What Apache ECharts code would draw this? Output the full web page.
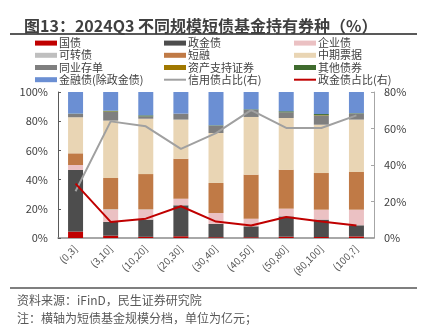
<!DOCTYPE html>
<html><head><meta charset="utf-8">
<script src="https://cdn.jsdelivr.net/npm/echarts@6/dist/echarts.min.js"></script>
<style>html,body{margin:0;padding:0;background:#fff}#c{width:435px;height:330px}</style>
</head><body><div id="c"></div>
<script>
const categories = ['(0,3]','(3,10]','(10,20]','(20,30]','(30,40]','(40,50]','(50,80]','(80,100]','(100,?]'];
const guozhai   = [4.4, 1.6, 0.8, 1.2, 0.5, 0.5, 0.9, 0.7, 1.1];
const zhengjin  = [42.2, 9.4, 11.8, 21.2, 9.1, 7.5, 13.9, 11.9, 7.6];
const qiye      = [3.4, 8.4, 6.8, 4.5, 7.5, 5.2, 5.3, 6.8, 10.7];
const kezhuan   = [0, 0.3, 0.2, 0, 0, 0, 0, 0, 0];
const duanrong  = [8.0, 21.4, 24.2, 27.4, 20.6, 30.2, 26.7, 25.1, 25.8];
const zhongqi   = [24.7, 39.3, 37.9, 26.8, 34.2, 39.5, 35.4, 33.1, 35.9];
const tongye    = [2.3, 6.0, 1.6, 4.1, 5.0, 4.8, 3.9, 6.2, 4.1];
const abs       = [0, 0.3, 0, 0, 0, 0, 0, 0.3, 0];
const qita      = [0.2, 0.5, 0.7, 0, 0.3, 0.4, 0.7, 0.8, 0.3];
const jinrong   = [14.8, 12.8, 16.0, 14.8, 22.8, 11.9, 13.2, 15.1, 14.5];
const xinyongRatio  = [25.6, 63.9, 61.2, 48.8, 57.5, 70.1, 60.3, 60.3, 67.2];
const zhengjinRatio = [29.8, 8.8, 10.6, 17.4, 9.0, 6.8, 11.5, 9.1, 6.9];
const leftTicks = [0, 20, 40, 60, 80, 100];
const rightTicks = [0, 20, 40, 60, 80];

const barDefs = [
  ['国债', guozhai, '#C00000'],
  ['政金债', zhengjin, '#4D4D4D'],
  ['企业债', qiye, '#EBC1C3'],
  ['可转债', kezhuan, '#BFBFBF'],
  ['短融', duanrong, '#C07A46'],
  ['中期票据', zhongqi, '#E9D5B4'],
  ['同业存单', tongye, '#7F7F7F'],
  ['资产支持证券', abs, '#A07800'],
  ['其他债券', qita, '#3F6B2E'],
  ['金融债(除政金债)', jinrong, '#6B8FD3']
];
const series = barDefs.map(d => ({
  name: d[0], type: 'bar', stack: 'a', data: d[1], barWidth: 15,
  itemStyle: { color: d[2] }, emphasis: { disabled: true }
}));
series.push({ name: '信用债占比(右)', type: 'line', yAxisIndex: 1, data: xinyongRatio, symbol: 'none',
  lineStyle: { color: '#A0A0A0', width: 2 }, itemStyle: { color: '#A0A0A0' }, z: 5 });
series.push({ name: '政金债占比(右)', type: 'line', yAxisIndex: 1, data: zhengjinRatio, symbol: 'none',
  lineStyle: { color: '#C00000', width: 2 }, itemStyle: { color: '#C00000' }, z: 6 });

const font = '"Noto Sans CJK SC", "Noto Sans", sans-serif';
const lineIcon = 'path://M0,0H22V2H0Z';
function legendCol(left, names) {
  return { orient: 'vertical', left: left, top: 37, itemWidth: 22, itemHeight: 5, itemGap: 0,
    padding: 0, data: names.map(n => ({ name: n, icon: n.indexOf('占比') >= 0 ? lineIcon : 'rect' })),
    textStyle: { fontSize: 11, lineHeight: 12.2, color: '#404040', fontFamily: font, padding: [0,0,0,-3] },
    selectedMode: false };
}
const chart = echarts.init(document.getElementById('c'), null, { renderer: 'canvas' });
chart.setOption({
  animation: false,
  textStyle: { fontFamily: font },
  title: { text: '图13：2024Q3 不同规模短债基金持有券种（%）', left: 19, top: 13,
    textStyle: { fontSize: 16, fontWeight: 'bold', color: '#404040', fontFamily: font } },
  legend: [
    legendCol(35, ['国债', '可转债', '同业存单', '金融债(除政金债)']),
    legendCol(164, ['政金债', '短融', '资产支持证券', '信用债占比(右)']),
    legendCol(294, ['企业债', '中期票据', '其他债券', '政金债占比(右)'])
  ],
  grid: { left: 58, right: 61, top: 92, bottom: 92 },
  xAxis: { type: 'category', data: categories,
    axisLine: { lineStyle: { color: '#8C8C8C', width: 1.5 } }, axisTick: { show: false },
    axisLabel: { rotate: 45, interval: 0, fontSize: 10, color: '#595959', margin: 9 } },
  yAxis: [
    { type: 'value', min: 0, max: 100, interval: 20,
      axisLine: { show: true, lineStyle: { color: '#595959' } },
      axisTick: { show: true, inside: true, length: 3, lineStyle: { color: '#595959' } },
      splitLine: { show: false },
      axisLabel: { formatter: v => leftTicks.includes(v) ? v + '%' : '', fontSize: 11, color: '#404040', margin: 10 } },
    { type: 'value', min: 0, max: 80, interval: 20,
      axisLine: { show: true, lineStyle: { color: '#A6A6A6' } },
      axisTick: { show: true, inside: true, length: 3, lineStyle: { color: '#A6A6A6' } },
      splitLine: { show: false },
      axisLabel: { formatter: v => rightTicks.includes(v) ? v + '%' : '', fontSize: 11, color: '#404040', margin: 10 } }
  ],
  graphic: [
    { type: 'line', shape: { x1: 10, y1: 34, x2: 417, y2: 34 }, style: { stroke: '#595959', lineWidth: 2 } },
    { type: 'line', shape: { x1: 10, y1: 288, x2: 417, y2: 288 }, style: { stroke: '#7F7F7F', lineWidth: 2 } },
    { type: 'text', left: 17, top: 294, style: { text: '资料来源：iFinD，民生证券研究院', fill: '#595959', font: '12px ' + font } },
    { type: 'text', left: 17, top: 312, style: { text: '注：横轴为短债基金规模分档，单位为亿元；', fill: '#595959', font: '12px ' + font } }
  ],
  series: series
});
</script></body></html>
